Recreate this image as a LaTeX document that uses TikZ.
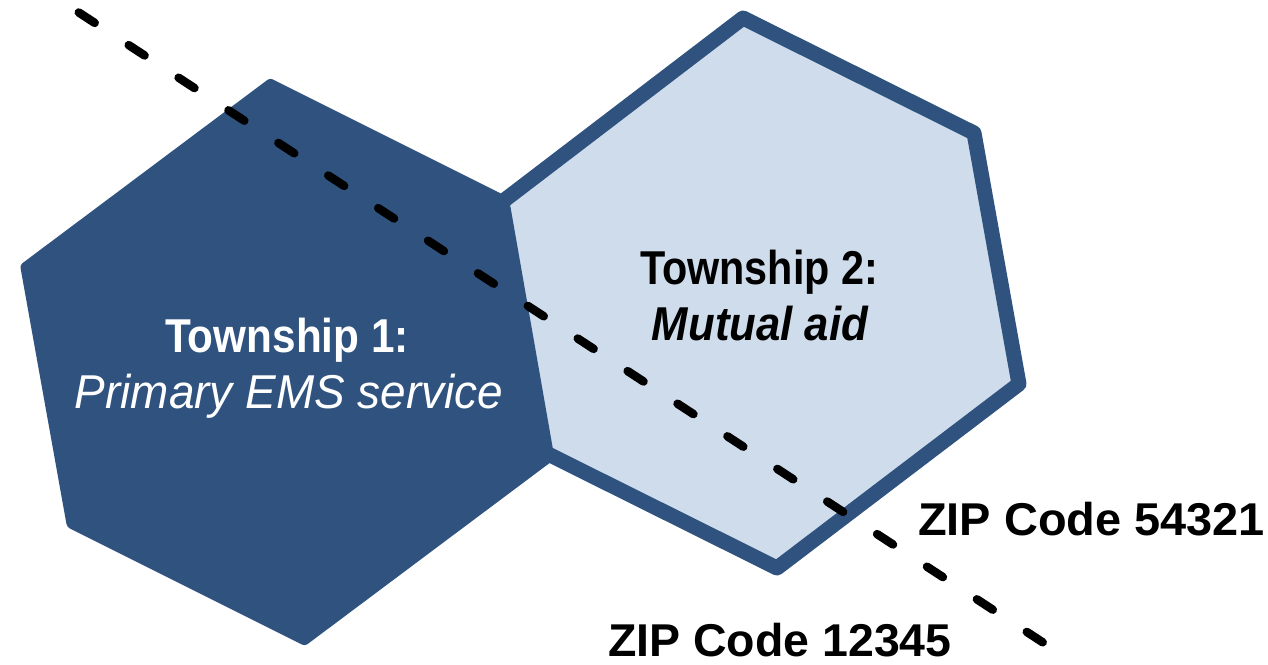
\documentclass[tikz,border=0pt]{standalone}
\usepackage{fontspec}
\setmainfont{Liberation Sans}
\usepackage{graphicx}
\definecolor{hexdark}{RGB}{47,83,126}
\definecolor{hexlight}{RGB}{207,220,236}
\tikzset{
  hexone/.style={fill=hexdark, draw=none, rounded corners=3pt},
  hextwo/.style={fill=hexlight, draw=hexdark, line width=15pt, line join=round},
  zipline/.style={line width=8.5pt, line cap=round, dash pattern=on 19pt off 40.6pt},
  hextitle/.style={anchor=base, inner sep=0pt, font=\fontsize{47.5}{50}\selectfont},
  ziplabel/.style={anchor=base west, inner sep=0pt, font=\fontsize{46}{50}\selectfont\bfseries}
}
\begin{document}
\begin{tikzpicture}[x=1pt,y=-1pt]
\useasboundingbox (0,0) rectangle (1268,664);
% left hexagon
\draw[hexone] (270,78) -- (20,265) -- (67,527) -- (305,646) -- (555,459) -- (508,197) -- cycle;
% right hexagon
\draw[hextwo] (743,18) -- (974,133) -- (1019,384) -- (777,568) -- (546,453) -- (502,202) -- cycle;
% dashed boundary line
\coordinate (ls) at (78.8,12.5);
\coordinate (le) at (1043,642.5);
\draw[zipline] (ls) -- (le);
% texts
\node[hextitle, text=white] (t1a) at (287,352) {\scalebox{0.89}[1]{\bfseries Township 1:}};
\node[hextitle, text=white] (t1b) at (289,408) {\scalebox{0.966}[1]{\itshape Primary EMS service}};
\node[hextitle, text=black] (t2a) at (759,284) {\scalebox{0.87}[1]{\bfseries Township 2:}};
\node[hextitle, text=black] (t2b) at (760,340) {\scalebox{0.92}[1]{\bfseries\itshape Mutual aid}};
\node[ziplabel] (z1) at (918,535) {\scalebox{1.02}[1]{ZIP Code 54321}};
\node[ziplabel] (z2) at (608,656) {\scalebox{1.01}[1]{ZIP Code 12345}};
\end{tikzpicture}
\end{document}
